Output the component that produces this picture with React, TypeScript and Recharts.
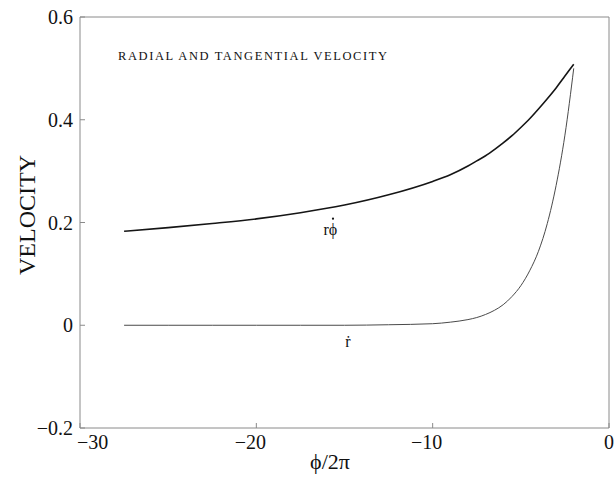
import { LineChart, Line, XAxis, YAxis, ReferenceDot, Customized } from "recharts";

// phase φ/2π where the curves are sampled
const phase = [-27.5, -25, -22.5, -20, -17.5, -15, -12.5, -10, -9, -8, -7.5, -7, -6.5, -6, -5.5, -5, -4.5, -4, -3.5, -3, -2.5, -2];
// tangential velocity r·dφ/dt
const tangential = [0.183, 0.19, 0.198, 0.207, 0.219, 0.234, 0.254, 0.28, 0.293, 0.31, 0.32, 0.33, 0.342, 0.355, 0.369, 0.385, 0.402, 0.421, 0.441, 0.462, 0.485, 0.508];
// radial velocity dr/dt
const radial = [0, 0, 0, 0, 0, 0, 0.001, 0.003, 0.006, 0.011, 0.015, 0.021, 0.029, 0.04, 0.056, 0.077, 0.106, 0.144, 0.198, 0.272, 0.37, 0.5];

const xTicks = [-30, -20, -10, 0];
const yTicks = [-0.2, 0, 0.2, 0.4, 0.6];

const data = phase.map((p, i) => ({ p, rphi: tangential[i], rdot: radial[i] }));

const FONT = "'Liberation Serif', 'Times New Roman', serif";
const FRAME = "#8a8a8a";

const fmt = (v: number) => (v < 0 ? `\u2212${Math.abs(v)}` : `${v}`);

const XTick = (props: any) => {
  const { x, y, payload, index } = props;
  const first = index === 0;
  return (
    <text
      x={first ? x - 3 : payload.value < 0 ? x - 6 : x}
      y={y}
      dy="0.71em"
      textAnchor={first ? "start" : "middle"}
      fontFamily={FONT}
      fontSize={20}
      fill="#111"
    >
      {fmt(payload.value)}
    </text>
  );
};

const YTick = (props: any) => {
  const { x, y, payload } = props;
  return (
    <text x={x} y={y} dy="0.36em" textAnchor="end" fontFamily={FONT} fontSize={20} fill="#111">
      {fmt(payload.value)}
    </text>
  );
};

// "r" followed by a dotted phi: the time-derivative dot sits over the phi
const RPhiDotLabel = (props: any) => {
  const { viewBox } = props;
  const cx = viewBox.x + viewBox.width / 2;
  const cy = viewBox.y + viewBox.height / 2;
  return (
    <g fill="#111">
      <text x={cx} y={cy + 6} textAnchor="middle" fontFamily={FONT} fontSize={16}>
        {"r\u03D5"}
      </text>
      <circle cx={cx + 2.6} cy={cy - 10} r={1.1} />
    </g>
  );
};

const RDotLabel = (props: any) => {
  const { viewBox } = props;
  const cx = viewBox.x + viewBox.width / 2;
  const cy = viewBox.y + viewBox.height / 2;
  return (
    <text x={cx} y={cy + 5} textAnchor="middle" fontFamily={FONT} fontSize={16} fill="#111">
      {"\u1E59"}
    </text>
  );
};

const Titles = () => (
  <g fontFamily={FONT} fill="#111">
    <text x={118} y={60} fontSize={12.5} textLength={269} lengthAdjust="spacing">
      RADIAL AND TANGENTIAL VELOCITY
    </text>
    <text x={35} y={215} fontSize={24} textAnchor="middle" transform="rotate(-90 35 215)">
      VELOCITY
    </text>
    <text x={330} y={469} fontSize={22} textAnchor="middle">
      {"\u03D5/2\u03C0"}
    </text>
  </g>
);

export default function App() {
  return (
    <div style={{ position: "absolute", left: 0, top: 0, background: "#fff" }}>
      <LineChart width={614} height={478} data={data} margin={{ top: 16, right: 4, bottom: 49, left: 79 }}>
        <XAxis
          xAxisId="b"
          dataKey="p"
          type="number"
          domain={[-30, 0]}
          ticks={xTicks}
          allowDataOverflow
          height={1}
          tickSize={-5}
          tickMargin={12}
          stroke={FRAME}
          tick={<XTick />}
          interval={0}
        />
        <XAxis
          xAxisId="t"
          orientation="top"
          dataKey="p"
          type="number"
          domain={[-30, 0]}
          ticks={xTicks}
          allowDataOverflow
          height={1}
          tickSize={-5}
          stroke={FRAME}
          tick={false}
        />
        <YAxis
          yAxisId="l"
          type="number"
          domain={[-0.2, 0.6]}
          ticks={yTicks}
          allowDataOverflow
          width={1}
          tickSize={-5}
          tickMargin={12}
          stroke={FRAME}
          tick={<YTick />}
          interval={0}
        />
        <YAxis
          yAxisId="r"
          orientation="right"
          type="number"
          domain={[-0.2, 0.6]}
          ticks={yTicks}
          allowDataOverflow
          width={1}
          tickSize={-5}
          stroke={FRAME}
          tick={false}
        />
        <Line
          xAxisId="b"
          yAxisId="l"
          type="monotone"
          dataKey="rphi"
          stroke="#151515"
          strokeWidth={1.6}
          dot={false}
          isAnimationActive={false}
        />
        <Line
          xAxisId="t"
          yAxisId="r"
          type="monotone"
          dataKey="rdot"
          stroke="#4a4a4a"
          strokeWidth={1}
          dot={false}
          isAnimationActive={false}
        />
        <ReferenceDot
          xAxisId="b"
          yAxisId="l"
          x={-15.8}
          y={0.188}
          r={0}
          stroke="none"
          label={<RPhiDotLabel />}
        />
        <ReferenceDot
          xAxisId="b"
          yAxisId="l"
          x={-14.8}
          y={-0.033}
          r={0}
          stroke="none"
          label={<RDotLabel />}
        />
        <Customized component={<Titles />} />
      </LineChart>
    </div>
  );
}
